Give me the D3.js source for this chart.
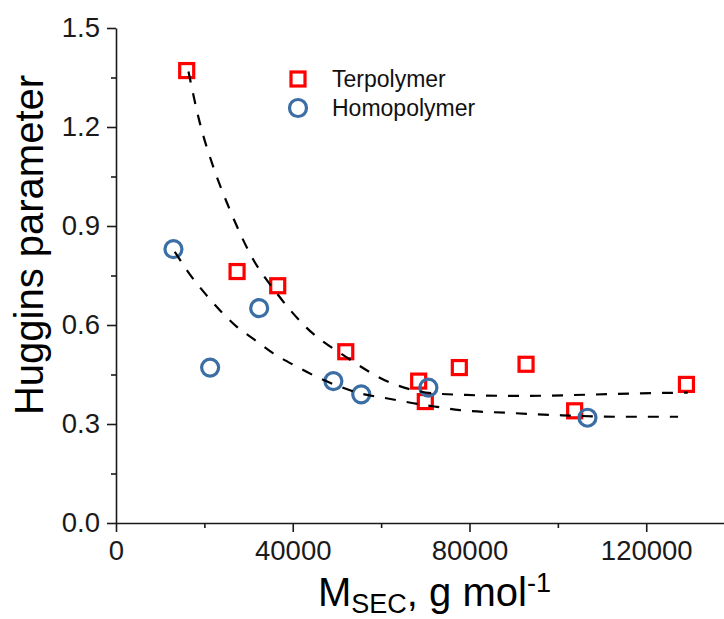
<!DOCTYPE html>
<html>
<head>
<meta charset="utf-8">
<script src="https://cdn.jsdelivr.net/npm/d3@7"></script>
<style>
  html, body { margin: 0; padding: 0; background: #fff; }
  svg { display: block; font-family: "Liberation Sans", Arial, sans-serif; }
</style>
</head>
<body>
<div id="chart"></div>
<script>
// Terpolymer measurements (M_SEC, Huggins parameter)
const terpolymerX = [16000, 27400, 36600, 52000, 68500, 70000, 77700, 92800, 103800, 129100];
const terpolymerY = [1.371, 0.762, 0.719, 0.519, 0.430, 0.368, 0.471, 0.481, 0.340, 0.420];

// Homopolymer measurements
const homopolymerX = [13000, 21300, 32400, 49200, 55500, 70700, 106700];
const homopolymerY = [0.830, 0.471, 0.651, 0.430, 0.390, 0.410, 0.319];

// Dashed fit curves
const terFitX = [16400, 19000, 22000, 25800, 30700, 36400, 43100, 52200, 61600, 71800, 79300, 91400, 107200, 118600, 129400];
const terFitY = [1.368, 1.211, 1.080, 0.948, 0.807, 0.696, 0.592, 0.502, 0.428, 0.393, 0.388, 0.385, 0.389, 0.393, 0.395];
const homFitX = [13300, 16300, 19800, 23500, 27300, 31400, 35600, 40900, 45400, 50700, 55200, 61200, 67300, 72600, 77800, 88400, 99700, 114000, 127200];
const homFitY = [0.822, 0.761, 0.701, 0.645, 0.595, 0.555, 0.514, 0.474, 0.443, 0.413, 0.393, 0.378, 0.363, 0.352, 0.342, 0.334, 0.327, 0.322, 0.322];

const xMajorTicks = [0, 40000, 80000, 120000];
const xMinorTicks = [20000, 60000, 100000];
const yMajorTicks = [0, 0.3, 0.6, 0.9, 1.2, 1.5];
const yMinorTicks = [0.15, 0.45, 0.75, 1.05, 1.35];

const legendLabels = ["Terpolymer", "Homopolymer"];

const WIDTH = 724, HEIGHT = 619;
const RED = "#ff0000", BLUE = "#3a6ea5", AXIS = "#1a1a1a";

const svg = d3.select("#chart").append("svg")
  .attr("width", WIDTH)
  .attr("height", HEIGHT);

const x = d3.scaleLinear().domain([0, 137600]).range([116, 724]);
const y = d3.scaleLinear().domain([0, 1.5]).range([523, 28]);

// axes
svg.append("g")
  .attr("transform", `translate(0,${y(0)})`)
  .call(d3.axisBottom(x).tickValues(xMajorTicks).tickSize(9).tickSizeOuter(0).tickPadding(8).tickFormat(d3.format("d")));
svg.append("g")
  .attr("transform", `translate(0,${y(0)})`)
  .call(d3.axisBottom(x).tickValues(xMinorTicks).tickSize(5).tickSizeOuter(0).tickFormat(""))
  .select(".domain").remove();

svg.append("g")
  .attr("transform", `translate(${x(0)},0)`)
  .call(d3.axisLeft(y).tickValues(yMajorTicks).tickSize(9).tickSizeOuter(0).tickPadding(7).tickFormat(d3.format(".1f")));
svg.append("g")
  .attr("transform", `translate(${x(0)},0)`)
  .call(d3.axisLeft(y).tickValues(yMinorTicks).tickSize(5).tickSizeOuter(0).tickFormat(""))
  .select(".domain").remove();

svg.selectAll(".domain, .tick line")
  .attr("stroke", AXIS)
  .attr("stroke-width", 1.6);
svg.selectAll(".tick text")
  .attr("fill", AXIS)
  .attr("font-family", "Liberation Sans, Arial, sans-serif")
  .attr("font-size", 27.5);

// axis titles
svg.append("text")
  .attr("transform", `translate(43,245) rotate(-90)`)
  .attr("text-anchor", "middle")
  .attr("font-size", 40)
  .attr("fill", "#000")
  .text("Huggins parameter");

const xTitle = svg.append("text")
  .attr("x", 318)
  .attr("y", 606)
  .attr("font-size", 40)
  .attr("fill", "#000");
xTitle.append("tspan").text("M");
xTitle.append("tspan").attr("font-size", 27).attr("dy", 7).text("SEC");
xTitle.append("tspan").attr("dy", -7).text(", g mol");
xTitle.append("tspan").attr("font-size", 27).attr("dy", -14).text("-1");

// markers
const terData = terpolymerX.map((v, i) => [v, terpolymerY[i]]);
const homData = homopolymerX.map((v, i) => [v, homopolymerY[i]]);

svg.append("g").selectAll("rect")
  .data(terData)
  .enter().append("rect")
  .attr("x", d => x(d[0]) - 7)
  .attr("y", d => y(d[1]) - 7)
  .attr("width", 14)
  .attr("height", 14)
  .attr("fill", "none")
  .attr("stroke", RED)
  .attr("stroke-width", 3.2);

svg.append("g").selectAll("circle")
  .data(homData)
  .enter().append("circle")
  .attr("cx", d => x(d[0]))
  .attr("cy", d => y(d[1]))
  .attr("r", 8.5)
  .attr("fill", "none")
  .attr("stroke", BLUE)
  .attr("stroke-width", 3.2);

// fit curves
const line = d3.line()
  .x(d => x(d[0]))
  .y(d => y(d[1]))
  .curve(d3.curveMonotoneX);

[[terFitX, terFitY], [homFitX, homFitY]].forEach(([xs, ys]) => {
  svg.append("path")
    .datum(xs.map((v, i) => [v, ys[i]]))
    .attr("d", line)
    .attr("fill", "none")
    .attr("stroke", "#000")
    .attr("stroke-width", 2.2)
    .attr("stroke-dasharray", "11,11");
});

// legend
const legend = svg.append("g");
legend.append("rect")
  .attr("x", 298 - 7).attr("y", 79 - 7)
  .attr("width", 14).attr("height", 14)
  .attr("fill", "none").attr("stroke", RED).attr("stroke-width", 3.2);
legend.append("circle")
  .attr("cx", 298).attr("cy", 108)
  .attr("r", 8.5)
  .attr("fill", "none").attr("stroke", BLUE).attr("stroke-width", 3.2);
legend.selectAll("text")
  .data(legendLabels)
  .enter().append("text")
  .attr("x", 332)
  .attr("y", (d, i) => 79 + i * 29)
  .attr("dy", "0.36em")
  .attr("font-size", 23)
  .attr("fill", "#111")
  .text(d => d);
</script>
</body>
</html>
